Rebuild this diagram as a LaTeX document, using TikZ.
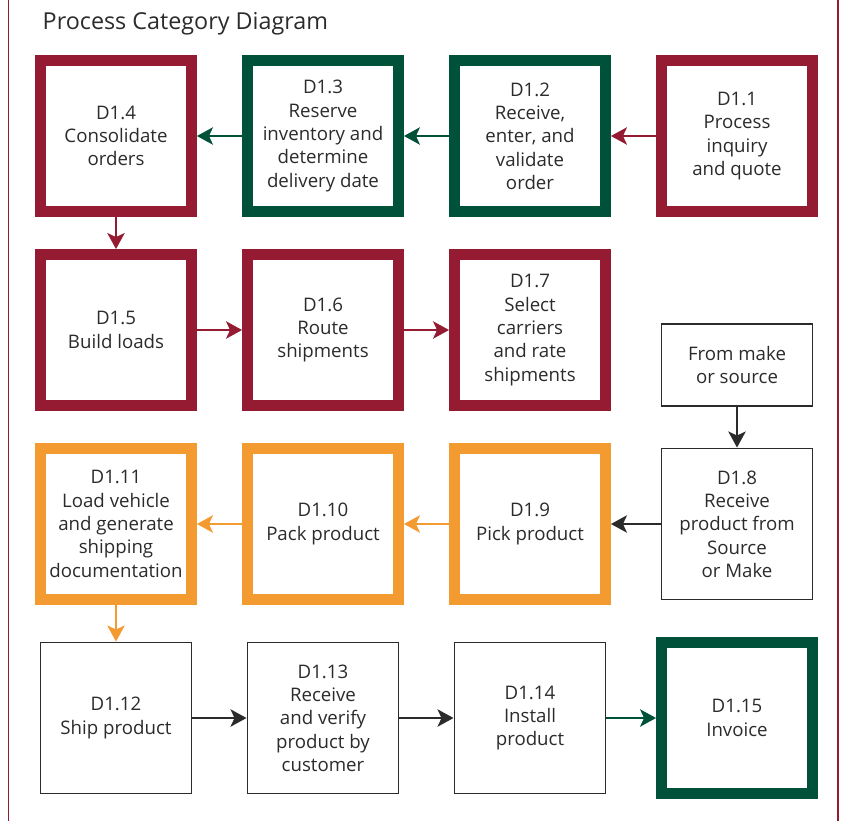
\documentclass[tikz,border=0pt]{standalone}
\usepackage{fontspec}
\setmainfont{Open Sans}
\usetikzlibrary{positioning,arrows.meta}

\definecolor{crimson}{HTML}{941B32}
\definecolor{pine}{HTML}{005139}
\definecolor{amber}{HTML}{F39A31}
\definecolor{ink}{HTML}{2B2B2B}

\begin{document}
\begin{tikzpicture}
[
    node distance = 145.5pt and 155.25pt,
    on grid,
    every node/.style = {text=ink},
    box/.style        = {draw,
                        minimum width=113.5pt,
                        minimum height=113.5pt,
                        align=center,
                        font=\fontsize{14}{17.5}\selectfont},
    thinbox/.style    = {box, draw=ink, line width=1.2pt},
    redbox/.style     = {box, draw=crimson, line width=7.9pt},
    greenbox/.style   = {box, draw=pine, line width=7.9pt},
    orangebox/.style  = {box, draw=amber, line width=7.9pt},
    arr/.style        = {line width=1.7pt,
                        -{Stealth[length=12pt,width=13pt,inset=3pt]}}
]
\useasboundingbox (0,0) rectangle (630.75pt,-615.75pt);

% frame
\draw[crimson, line width=1.1pt] (6.4pt,0) -- (6.4pt,-615.75pt);
\draw[crimson, line width=1.1pt] (628.5pt,0) -- (628.5pt,-615.75pt);

\node (title) [anchor=base west, font=\fontsize{17.5}{21}\selectfont]
    at (28.5pt,-21.75pt) {Process Category Diagram};

% row 1
\node (d1) [redbox] at (552.75pt,-102pt) {
D1.1\\Process\\inquiry\\and quote
};
\node (d2) [greenbox, left=of d1] {
D1.2\\Receive,\\enter, and\\validate\\order
};
\node (d3) [greenbox, left=of d2] {
D1.3\\Reserve\\inventory and\\determine\\delivery date
};
\node (d4) [redbox, left=of d3] {
D1.4\\Consolidate\\orders
};

\draw[arr, crimson] (d1) -- (d2);
\draw[arr, pine] (d2) -- (d3);
\draw[arr, pine] (d3) -- (d4);

% row 2
\node (d5) [redbox, below=of d4] {
D1.5\\Build loads
};
\node (d6) [redbox, right=of d5] {
D1.6\\Route\\shipments
};
\node (d7) [redbox, right=of d6] {
D1.7\\Select\\carriers\\and rate\\shipments
};

\draw[arr, crimson] (d4) -- (d5);
\draw[arr, crimson] (d5) -- (d6);
\draw[arr, crimson] (d6) -- (d7);

% row 3
\node (d9) [orangebox, below=of d7] {
D1.9\\Pick product
};
\node (d8) [thinbox, right=of d9] {
D1.8\\Receive\\product from\\Source\\or Make
};
\node (src) [thinbox, minimum height=61.5pt, above=119.25pt of d8] {
From make\\or source
};
\node (d10) [orangebox, left=of d9] {
D1.10\\Pack product
};
\node (d11) [orangebox, left=of d10] {
D1.11\\Load vehicle\\and generate\\shipping\\documentation
};

\draw[arr, ink] (src) -- (d8);
\draw[arr, ink] (d8) -- (d9);
\draw[arr, amber] (d9) -- (d10);
\draw[arr, amber] (d10) -- (d11);

% row 4
\node (d12) [thinbox, below=of d11] {
D1.12\\Ship product
};
\node (d13) [thinbox, right=of d12] {
D1.13\\Receive\\and verify\\product by\\customer
};
\node (d14) [thinbox, right=of d13] {
D1.14\\Install\\product
};
\node (d15) [greenbox, right=of d14] {
D1.15\\Invoice
};

\draw[arr, amber] (d11) -- (d12);
\draw[arr, ink] (d12) -- (d13);
\draw[arr, ink] (d13) -- (d14);
\draw[arr, pine] (d14) -- (d15);

\end{tikzpicture}
\end{document}
